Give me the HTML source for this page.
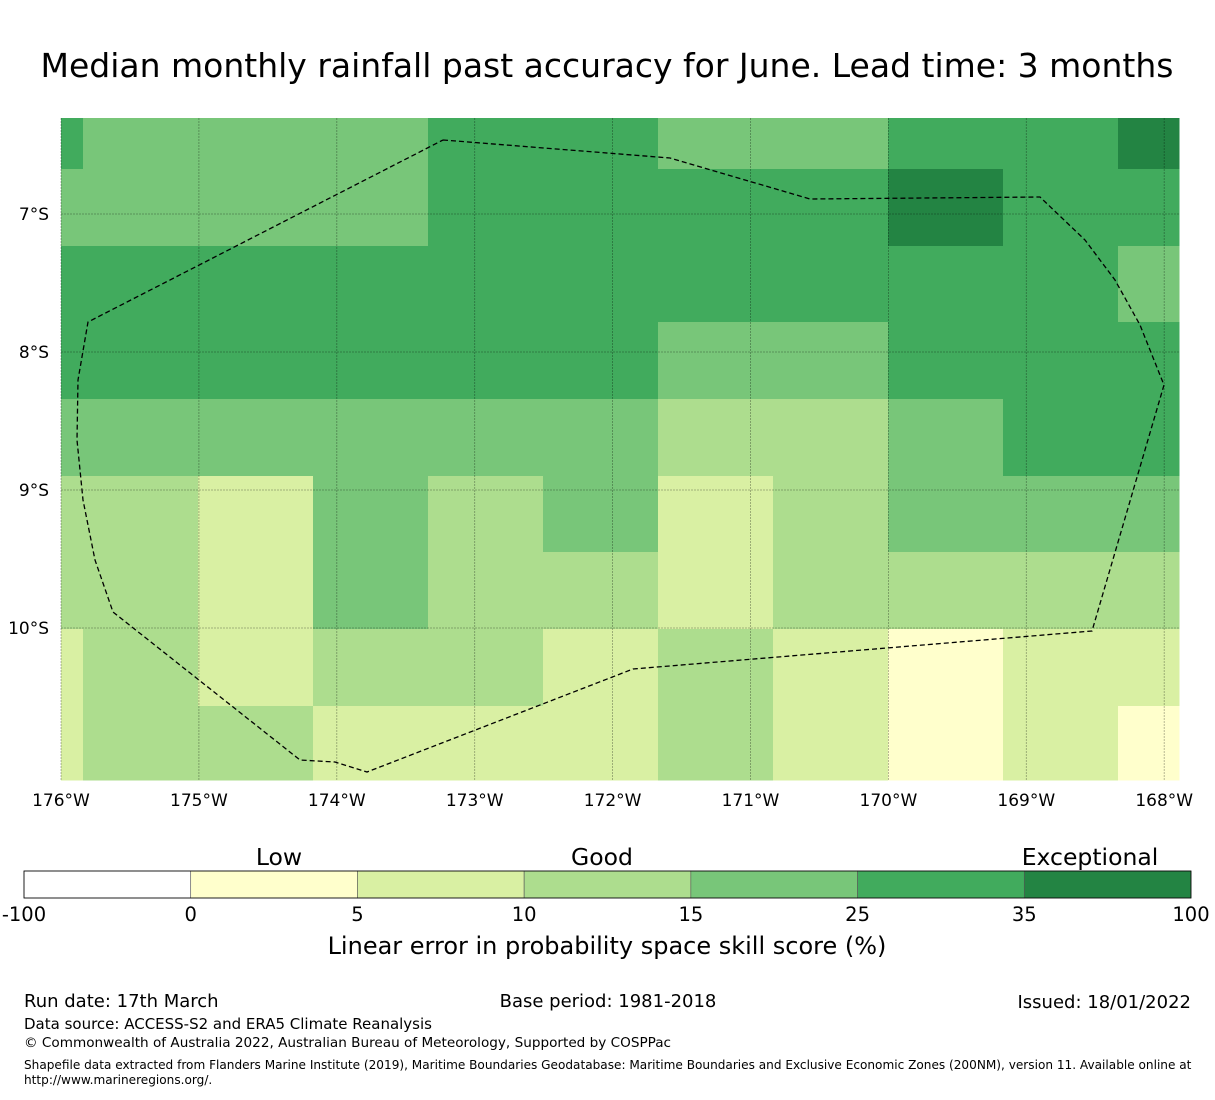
<!DOCTYPE html>
<html><head><meta charset="utf-8"><style>
body{margin:0;background:#fff;}
svg text{font-family:"DejaVu Sans","Liberation Sans",sans-serif;}
</style></head><body>
<svg id="chart" width="1215" height="1095" viewBox="0 0 1215 1095" xmlns="http://www.w3.org/2000/svg">
<text x="607" y="77" font-size="33" text-anchor="middle">Median monthly rainfall past accuracy for June. Lead time: 3 months</text>
<g id="cells"></g>
<g id="grid"></g>
<polyline id="eez" fill="none" stroke="#000" stroke-width="1.3" stroke-dasharray="5,3"
 points="443,140 670,158 810,199 1040,197 1085,240 1115,280 1140,325 1164,385 1092,631 633,669 367,772 335,762 300,760 113,612 95,560 83,500 77,440 78,380 88,322 443,140"/>
<g id="axes"></g>
<g id="cbar"></g>
<text x="279" y="865" font-size="23.5" text-anchor="middle">Low</text>
<text x="602" y="865" font-size="23.5" text-anchor="middle">Good</text>
<text x="1090" y="865" font-size="23.5" text-anchor="middle">Exceptional</text>
<text x="607" y="954" font-size="24" text-anchor="middle">Linear error in probability space skill score (%)</text>
<text x="24" y="1007" font-size="18">Run date: 17th March</text>
<text x="608" y="1007" font-size="18" text-anchor="middle">Base period: 1981-2018</text>
<text x="1191" y="1008" font-size="18" text-anchor="end">Issued: 18/01/2022</text>
<text x="24" y="1029" font-size="15">Data source: ACCESS-S2 and ERA5 Climate Reanalysis</text>
<text x="24" y="1047" font-size="13.6">© Commonwealth of Australia 2022, Australian Bureau of Meteorology, Supported by COSPPac</text>
<text x="24" y="1069" font-size="12.1">Shapefile data extracted from Flanders Marine Institute (2019), Maritime Boundaries Geodatabase: Maritime Boundaries and Exclusive Economic Zones (200NM), version 11. Available online at</text>
<text x="24" y="1084" font-size="12.1">http://www.marineregions.org/.</text>
</svg>
<script>
const colors=["#ffffff","#ffffcc","#d9f0a3","#addd8e","#78c679","#41ab5d","#238443"];
const colEdges=[61,83,198,313,428,543,658,773,888,1003,1118,1179];
const rowEdges=[118,169,246,322,399,476,552,629,706,780];
const grid=[
[5,4,4,4,5,5,4,4,5,5,6],
[4,4,4,4,5,5,5,5,6,5,5],
[5,5,5,5,5,5,5,5,5,5,4],
[5,5,5,5,5,5,4,4,5,5,5],
[4,4,4,4,4,4,3,3,4,5,5],
[3,3,2,4,3,4,2,3,4,4,4],
[3,3,2,4,3,3,2,3,3,3,3],
[2,3,2,3,3,2,3,2,1,2,2],
[2,3,3,2,2,2,3,2,1,2,1]];
const lonTicks=["176°W","175°W","174°W","173°W","172°W","171°W","170°W","169°W","168°W"];
const latTicks=["7°S","8°S","9°S","10°S"];
const cbarTicks=["-100","0","5","10","15","25","35","100"];
const NS="http://www.w3.org/2000/svg";
function mk(t,a,p){const e=document.createElementNS(NS,t);for(const k in a)e.setAttribute(k,a[k]);p.appendChild(e);return e;}
const xLon=i=>61+i*137.9, yLat=i=>214+i*138;
const cg=document.getElementById('cells');
grid.forEach((row,r)=>row.forEach((v,c)=>{
 const e=mk('rect',{x:colEdges[c],y:rowEdges[r],width:colEdges[c+1]-colEdges[c]+0.5,height:rowEdges[r+1]-rowEdges[r]+0.5,fill:colors[v]},cg);
 
 
}));
const gg=document.getElementById('grid'), ax=document.getElementById('axes');
lonTicks.forEach((t,i)=>{
 const x=xLon(i);
 const l=mk('line',{x1:x,y1:118,x2:x,y2:780,stroke:'#000','stroke-opacity':0.35,'stroke-width':0.8,'stroke-dasharray':'2,1'},gg);
 
 
 const tx=mk('text',{x:x,y:806,'font-size':17,'text-anchor':'middle'},ax);tx.textContent=t;
 
 
});
latTicks.forEach((t,i)=>{
 const y=yLat(i);
 const l=mk('line',{x1:61,y1:y,x2:1179,y2:y,stroke:'#000','stroke-opacity':0.35,'stroke-width':0.8,'stroke-dasharray':'2,1'},gg);
 
 
 const tx=mk('text',{x:49,y:y+6,'font-size':17,'text-anchor':'end'},ax);tx.textContent=t;
 
 
});
const cb=document.getElementById('cbar');
const segW=(1191-24)/7;
for(let i=0;i<7;i++){
 const e=mk('rect',{x:24+i*segW,y:871,width:segW,height:27,fill:colors[i],stroke:'#555','stroke-width':0.6},cb);
 
 
}
mk('rect',{x:24,y:871,width:1167,height:27,fill:'none',stroke:'#000','stroke-width':0.8},cb);
cbarTicks.forEach((t,i)=>{
 const tx=mk('text',{x:24+i*segW,y:921,'font-size':19.5,'text-anchor':'middle'},cb);tx.textContent=t;
 
 
});
</script>
</body></html>
